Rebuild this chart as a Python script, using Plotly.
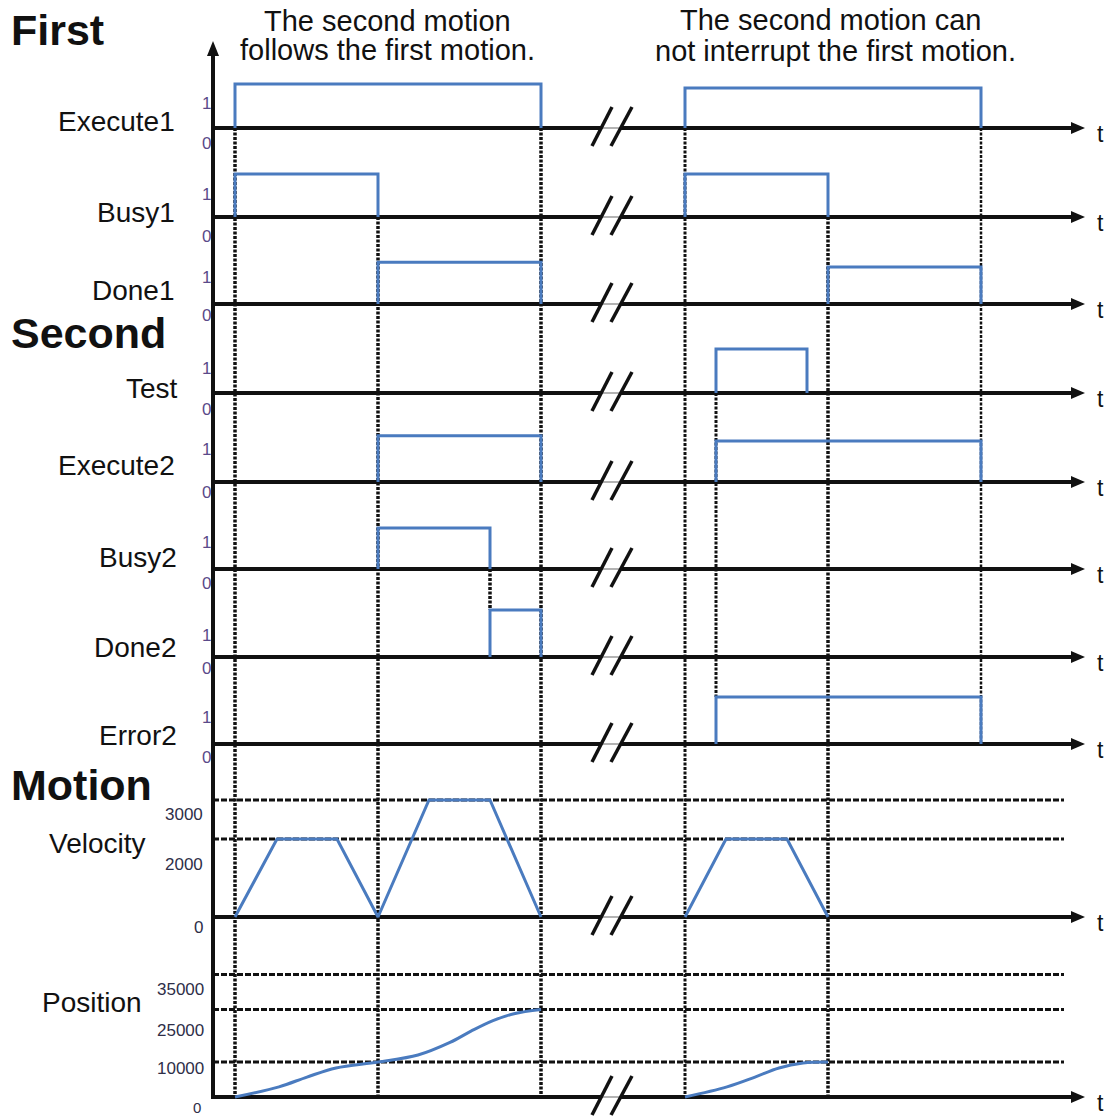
import plotly.graph_objects as go

W, H = 1105, 1117
ORIGIN_X = 213          # pixel column of the vertical axis (t = 0)
FONT = "Liberation Sans, Arial, Helvetica, sans-serif"
BLUE = "#4a7bbf"

# ---------------- data (time in drawing units from the vertical axis) ----------------
signal_names = ["Execute1", "Busy1", "Done1", "Test", "Execute2", "Busy2", "Done2", "Error2"]

execute1_on = [22, 472]
execute1_off = [328, 768]
execute1_lvl = [1.0, 0.91]

busy1_on = [22, 472]
busy1_off = [165, 615]
busy1_lvl = [0.98, 0.98]

done1_on = [165, 615]
done1_off = [328, 768]
done1_lvl = [0.95, 0.84]

test_on = [503]
test_off = [594]
test_lvl = [1.0]

execute2_on = [165, 503]
execute2_off = [328, 768]
execute2_lvl = [1.05, 0.93]

busy2_on = [165]
busy2_off = [277]
busy2_lvl = [0.93]

done2_on = [277]
done2_off = [328]
done2_lvl = [1.07]

error2_on = [503]
error2_off = [768]
error2_lvl = [1.07]

vel_t_a = [22, 64, 124, 165, 216, 277, 328]
vel_a = [0, 2000, 2000, 0, 3000, 3000, 0]
vel_t_b = [472, 513, 574, 615]
vel_b = [0, 2000, 2000, 0]

pos_t_a = [22, 66, 94, 123, 165, 205, 237, 258, 280, 301, 328]
pos_a = [0, 2900, 5700, 8300, 10000, 12000, 15600, 18800, 21800, 23800, 25000]
pos_t_b = [472, 514, 542, 566, 590, 615]
pos_b = [0, 2900, 5700, 8300, 9700, 10000]

vel_ticks = [3000, 2000, 0]
vel_ref = [3000, 2000]
pos_ticks = [35000, 25000, 10000, 0]
pos_ref = [35000, 25000, 10000]

# event instants marked by dotted verticals
event_t = [22, 165, 328, 277, 472, 503, 615, 768]

titles_left = ["The second motion", "follows the first motion."]
titles_right = ["The second motion can", "not interrupt the first motion."]
group_names = ["First", "Second", "Motion"]

pulses = [
    (execute1_on, execute1_off, execute1_lvl),
    (busy1_on, busy1_off, busy1_lvl),
    (done1_on, done1_off, done1_lvl),
    (test_on, test_off, test_lvl),
    (execute2_on, execute2_off, execute2_lvl),
    (busy2_on, busy2_off, busy2_lvl),
    (done2_on, done2_off, done2_lvl),
    (error2_on, error2_off, error2_lvl),
]

# ---------------- layout geometry (pixels) ----------------
dig_base_px = [128, 217, 304, 393, 482, 569, 657, 744]
vel_base_px = 917
pos_base_px = 1097
DIG_PPU = 44.0      # px per logic unit
VEL_PPU = 0.039     # px per velocity unit
POS_PPU = 0.0035    # px per position unit
END_PX = 1072
TIP_PX = 1085
GAP = (601, 621)
REF_END_PX = 1064
# dotted verticals: top / bottom pixel rows
event_top = [128, 217, 128, 569, 128, 393, 217, 128]
event_bot = [1097, 1097, 1097, 610, 1097, 697, 1097, 744]
event_w = [3.5, 3.5, 3.5, 3.5, 3.0, 3.0, 3.5, 2.5]


def px(p):
    return p / W


def py(p):
    return 1 - p / H


def t_of(p):
    return p - ORIGIN_X


fig = go.Figure()
layout_axes = {}
all_bases = []


def add_row_axis(n, base_px, ppu, below, above):
    name = "yaxis" if n == 1 else f"yaxis{n}"
    layout_axes[name] = dict(
        domain=[py(base_px + below), py(base_px - above)],
        range=[-below / ppu, above / ppu],
        visible=False, fixedrange=True, anchor="x",
    )
    return "y" if n == 1 else f"y{n}"


def add_baseline(yref):
    fig.add_trace(go.Scatter(
        x=[0, t_of(GAP[0]), None, t_of(GAP[1]), t_of(END_PX)], y=[0, 0, None, 0, 0],
        mode="lines", line=dict(color="#111111", width=4), yaxis=yref,
        hoverinfo="skip", showlegend=False))
    fig.add_trace(go.Scatter(
        x=[t_of(GAP[0]), t_of(GAP[1])], y=[0, 0], mode="lines",
        line=dict(color="#9a9a9a", width=1.5), yaxis=yref,
        hoverinfo="skip", showlegend=False))


# digital rows
for i, (name, (on, off, lvl)) in enumerate(zip(signal_names, pulses)):
    yref = add_row_axis(i + 1, dig_base_px[i], DIG_PPU, 25, 55)
    add_baseline(yref)
    xs, ys = [], []
    for a, b, h in zip(on, off, lvl):
        xs += [a, a, b, b, None]
        ys += [0, h, h, 0, None]
    fig.add_trace(go.Scatter(x=xs, y=ys, mode="lines", line=dict(color=BLUE, width=3),
                             yaxis=yref, name=name, showlegend=False))
    all_bases.append(dig_base_px[i])

# velocity row
vref = add_row_axis(9, vel_base_px, VEL_PPU, 25, 135)
add_baseline(vref)
for tt, vv in ((vel_t_a, vel_a), (vel_t_b, vel_b)):
    fig.add_trace(go.Scatter(x=tt, y=vv, mode="lines", line=dict(color=BLUE, width=3),
                             yaxis=vref, name="Velocity", showlegend=False))
all_bases.append(vel_base_px)

# position row
pref = add_row_axis(10, pos_base_px, POS_PPU, 15, 135)
add_baseline(pref)
for tt, pp in ((pos_t_a, pos_a), (pos_t_b, pos_b)):
    fig.add_trace(go.Scatter(x=tt, y=pp, mode="lines",
                             line=dict(color=BLUE, width=3, shape="spline", smoothing=1.0),
                             yaxis=pref, name="Position", showlegend=False))
all_bases.append(pos_base_px)

shapes = []
# reference dashed levels
for v in vel_ref:
    shapes.append(dict(type="line", xref="x", yref=vref, x0=0, x1=t_of(REF_END_PX), y0=v, y1=v,
                       line=dict(color="#111111", width=3, dash="6px,2px"), layer="below"))
for v in pos_ref:
    shapes.append(dict(type="line", xref="x", yref=pref, x0=0, x1=t_of(REF_END_PX), y0=v, y1=v,
                       line=dict(color="#111111", width=3, dash="6px,2px"), layer="below"))
# dotted event verticals
for t, a, b, w in zip(event_t, event_top, event_bot, event_w):
    shapes.append(dict(type="line", xref="x", yref="paper", x0=t, x1=t, y0=py(a), y1=py(b),
                       line=dict(color="#111111", width=w, dash="3px,1.5px"), layer="below"))
# main vertical axis + arrow
shapes.append(dict(type="line", xref="paper", yref="paper", x0=px(ORIGIN_X), x1=px(ORIGIN_X),
                   y0=py(52), y1=py(pos_base_px + 2), line=dict(color="#111111", width=4)))
shapes.append(dict(type="path", xref="paper", yref="paper",
                   path=f"M {px(ORIGIN_X)},{py(41)} L {px(ORIGIN_X - 6)},{py(56)} L {px(ORIGIN_X + 6)},{py(56)} Z",
                   fillcolor="#111111", line=dict(width=0)))
# arrowheads + break marks
for yb in all_bases:
    shapes.append(dict(type="path", xref="paper", yref="paper",
                       path=f"M {px(TIP_PX)},{py(yb)} L {px(TIP_PX - 14)},{py(yb - 6)} L {px(TIP_PX - 14)},{py(yb + 6)} Z",
                       fillcolor="#111111", line=dict(width=0)))
    for x0p, x1p in ((592, 612), (611, 632)):
        shapes.append(dict(type="line", xref="paper", yref="paper",
                           x0=px(x0p), x1=px(x1p), y0=py(yb + 18), y1=py(yb - 21),
                           line=dict(color="#111111", width=3.5)))

ann = []


def text(x, y, s, size, xanchor="center", color="#111111", bold=False):
    ann.append(dict(x=px(x), y=py(y), xref="paper", yref="paper", text=s, showarrow=False,
                    xanchor=xanchor, yanchor="middle",
                    font=dict(family=FONT, size=size, color=color, weight=700 if bold else 400)))


# titles
text(387, 21, titles_left[0], 29)
text(387, 50, titles_left[1], 29)
text(830, 20, titles_right[0], 29)
text(835, 51, titles_right[1], 29)
# group names
for g, y in zip(group_names, [30, 333, 785]):
    text(9, y, g, 43, xanchor="left", bold=True)
# signal labels
label_right = [177, 177, 177, 180, 177, 179, 179, 179]
label_y = [121, 212, 290, 388, 466, 557, 647, 735]
for s, xr, y in zip(signal_names, label_right, label_y):
    text(xr, y, s, 28, xanchor="right")
text(148, 843, "Velocity", 28, xanchor="right")
text(144, 1002, "Position", 28, xanchor="right")
# 1/0 tick labels
one_y = [103, 195, 277, 369, 450, 542, 635, 717]
zero_y = [143, 236, 315, 409, 492, 583, 668, 757]
for a, b in zip(one_y, zero_y):
    text(206, a, "1", 17, color="#5a4a8a")
    text(206, b, "0", 17, color="#5a4a8a")
# velocity / position tick labels
for v, y in zip(vel_ticks, [814, 865, 927]):
    text(205, y, f"{v}", 17, xanchor="right", color="#2e2e48")
for v, y in zip(pos_ticks, [989, 1030, 1068, 1107]):
    text(206 if v else 203, y, f"{v}", 17 if v else 15, xanchor="right", color="#2e2e48")
# t labels
for yb in all_bases:
    text(1100, yb + 6, "t", 23)

fig.update_layout(
    width=W, height=H, autosize=False,
    margin=dict(l=0, r=0, t=0, b=0),
    paper_bgcolor="white", plot_bgcolor="white",
    xaxis=dict(domain=[px(ORIGIN_X), 1], range=[0, W - ORIGIN_X], visible=False, fixedrange=True),
    shapes=shapes, annotations=ann, showlegend=False,
    **layout_axes,
)

fig.write_html("out.html", post_script="document.body.style.margin='0';document.body.style.padding='0';",
               config={"displayModeBar": False})
